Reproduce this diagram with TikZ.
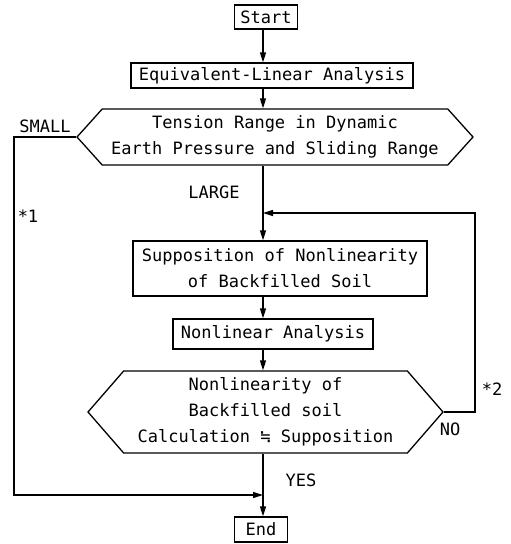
\documentclass[tikz,border=0pt]{standalone}
\usepackage{fontspec}
\setmonofont{DejaVu Sans Mono}
\usetikzlibrary{arrows.meta, positioning, shapes.symbols, calc}
\tikzset{
  every picture/.style={font=\ttfamily\fontsize{17}{26}\selectfont, line width=1.3pt},
  box/.style={draw, align=center, inner sep=2pt},
  hexa/.style={draw, signal, signal to=east and west, signal pointer angle=#1, align=center, inner sep=2pt},
  hexa/.default=96,
  arrow/.style={-{Triangle[length=10pt, width=6pt]}, line width=1.3pt},
  lbl/.style={inner sep=0pt},
}

\begin{document}
\begin{tikzpicture}[x=1pt, y=-1pt]
  \useasboundingbox (0,0) rectangle (511,544);
  % column of the main flow and the two return lines
  \coordinate (spine) at (263,0);
  \coordinate (leftR) at (14,0);
  \coordinate (rightR) at (475,0);
  % steps
  \node[box, minimum width=63pt, minimum height=24pt] (start) at (266,17) {Start};
  \node[box, minimum width=282pt, minimum height=25pt] (equiv) at (272,75.5) {Equivalent-Linear Analysis};
  \node[hexa=96, minimum width=396pt, minimum height=56pt] (range) at (275,137)
    {Tension Range in Dynamic\\Earth Pressure and Sliding Range};
  \node[box, minimum width=294pt, minimum height=55pt] (supp) at (280,268.5)
    {Supposition of Nonlinearity\\of Backfilled Soil};
  \node[box, minimum width=200pt, minimum height=30pt] (nonlin) at (273,334) {Nonlinear Analysis};
  \node[hexa=98, minimum width=355pt, minimum height=82pt] (check) at (265.5,412)
    {Nonlinearity of\\Backfilled soil\\Calculation ≒ Supposition};
  \node[box, minimum width=53pt, minimum height=25pt] (end) at (261,529.5) {End};
  \coordinate (join) at (spine |- 0,213);
  \coordinate (merge) at (spine |- 0,495);
  % main flow
  \draw[arrow] (start.south -| spine) -- (equiv.north -| spine);
  \draw[arrow] (equiv.south -| spine) -- (range.north -| spine);
  \draw[arrow] (range.south -| spine) -- (supp.north -| spine);
  \draw[arrow] (supp.south -| spine) -- (nonlin.north -| spine);
  \draw[arrow] (nonlin.south -| spine) -- (check.north -| spine);
  \draw[arrow] (check.south -| spine) -- (end.north -| spine);
  % branches
  \draw[arrow] (range.west) -- (range.west -| leftR) |- (merge);
  \draw[arrow] (check.east) -- (check.east -| rightR) |- (join);
  % labels
  \node[lbl] (small) at (45,126) {SMALL};
  \node[lbl] (note1) at (28,216) {*1};
  \node[lbl] (large) at (214,192) {LARGE};
  \node[lbl] (no) at (450,429) {NO};
  \node[lbl] (note2) at (492,389) {*2};
  \node[lbl] (yes) at (301,480) {YES};
\end{tikzpicture}
\end{document}
